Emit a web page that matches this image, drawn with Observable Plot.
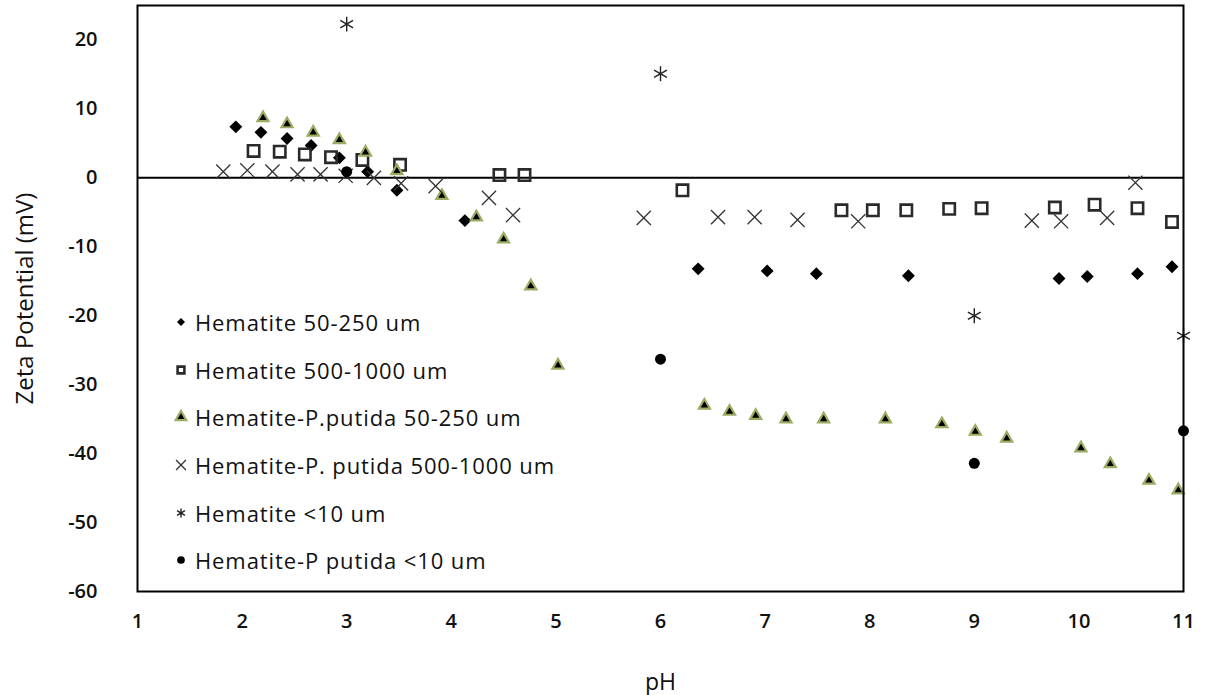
<!DOCTYPE html>
<html>
<head>
<meta charset="utf-8">
<script src="https://cdn.jsdelivr.net/npm/d3@7"></script>
<script src="https://cdn.jsdelivr.net/npm/@observablehq/plot@0.6"></script>
<style>
  html, body { margin: 0; padding: 0; background: #fff; }
  #wrap { position: relative; width: 1206px; height: 695px; }
  #legend { position: absolute; left: 172px; top: 298px; font-family: "Open Sans", sans-serif; font-size: 22px; letter-spacing: 0.9px; color: #111; }
  .row { height: 47.7px; display: flex; align-items: center; white-space: nowrap; }
  .row svg { width: 18px; height: 18px; margin-right: 5px; overflow: visible; }
</style>
</head>
<body>
<div id="wrap"><div id="legend"></div></div>
<script>
// Series names
const seriesNames = [
  "Hematite 50-250 um",
  "Hematite 500-1000 um",
  "Hematite-P.putida 50-250 um",
  "Hematite-P. putida 500-1000 um",
  "Hematite <10 um",
  "Hematite-P putida <10 um"
];

// Hematite 50-250 um
const h50pH = [1.94, 2.18, 2.43, 2.66, 2.93, 3.20, 3.48, 4.13, 6.36, 7.02, 7.49, 8.37, 9.81, 10.08, 10.56, 10.89];
const h50mV = [7.4, 6.6, 5.7, 4.7, 2.9, 0.9, -1.8, -6.2, -13.2, -13.5, -13.9, -14.2, -14.6, -14.3, -13.9, -12.9];

// Hematite 500-1000 um
const h500pH = [2.11, 2.36, 2.60, 2.85, 3.15, 3.51, 4.46, 4.70, 6.21, 7.73, 8.03, 8.35, 8.76, 9.07, 9.77, 10.15, 10.56, 10.89];
const h500mV = [3.9, 3.8, 3.4, 3.0, 2.6, 1.9, 0.4, 0.4, -1.8, -4.7, -4.7, -4.7, -4.5, -4.4, -4.3, -3.9, -4.4, -6.4];

// Hematite-P.putida 50-250 um
const hp50pH = [2.20, 2.43, 2.68, 2.93, 3.18, 3.48, 3.91, 4.24, 4.50, 4.76, 5.02, 6.42, 6.66, 6.91, 7.20, 7.56, 8.15, 8.69, 9.01, 9.31, 10.02, 10.30, 10.67, 10.95];
const hp50mV = [8.7, 7.8, 6.6, 5.5, 3.7, 1.0, -2.6, -5.7, -8.9, -15.7, -27.2, -33.0, -33.9, -34.5, -35.0, -35.0, -35.0, -35.7, -36.8, -37.8, -39.2, -41.5, -43.9, -45.3];

// Hematite-P. putida 500-1000 um
const hp500pH = [1.82, 2.05, 2.29, 2.53, 2.75, 2.99, 3.26, 3.52, 3.85, 4.36, 4.59, 5.84, 6.55, 6.90, 7.31, 7.89, 9.55, 9.83, 10.27, 10.54];
const hp500mV = [0.9, 1.1, 0.9, 0.5, 0.5, 0.3, 0.0, -0.8, -1.2, -2.9, -5.4, -5.8, -5.7, -5.7, -6.1, -6.3, -6.2, -6.3, -5.8, -0.7];

// Hematite <10 um
const h10pH = [3.0, 6.0, 9.0, 11.0];
const h10mV = [22.3, 15.1, -20.0, -22.9];

// Hematite-P putida <10 um
const hp10pH = [3.0, 6.0, 9.0, 11.0];
const hp10mV = [0.9, -26.3, -41.4, -36.7];

// Axis ticks
const xTicks = [1, 2, 3, 4, 5, 6, 7, 8, 9, 10, 11];
const yTicks = [-60, -50, -40, -30, -20, -10, 0, 10, 20];

const zip = (xs, ys) => xs.map((x, i) => ({pH: x, mV: ys[i]}));

const styles = [
  {symbol: "diamond2", fill: "#000", stroke: "none", r: 5.8, strokeWidth: 0},
  {symbol: "square", fill: "none", stroke: "#2a2a2a", r: 6.4, strokeWidth: 2.6},
  {symbol: "triangle", fill: "#000", stroke: "#9aab62", r: 4.1, strokeWidth: 2.2},
  {symbol: "times", fill: "none", stroke: "#333", r: 6.5, strokeWidth: 1.3},
  {symbol: "asterisk", fill: "none", stroke: "#222", r: 7, strokeWidth: 1.4},
  {symbol: "circle", fill: "#000", stroke: "none", r: 5.5, strokeWidth: 0}
];
const datasets = [
  zip(h50pH, h50mV), zip(h500pH, h500mV), zip(hp50pH, hp50mV),
  zip(hp500pH, hp500mV), zip(h10pH, h10mV), zip(hp10pH, hp10mV)
];

const chart = Plot.plot({
  width: 1206,
  height: 695,
  marginLeft: 137,
  marginRight: 23,
  marginTop: 5,
  marginBottom: 104,
  style: {fontFamily: "Open Sans, sans-serif", fontSize: "20px", color: "#111", background: "#fff"},
  x: {domain: [1, 11], ticks: xTicks},
  y: {domain: [-60, 25], ticks: yTicks},
  marks: [
    Plot.axisX({ticks: xTicks, tickSize: 0, tickPadding: 22, fontSize: 20, fontWeight: 600, label: null, tickFormat: d => String(d)}),
    Plot.axisY({ticks: yTicks, tickSize: 0, tickPadding: 40, fontSize: 20, fontWeight: 600, label: null, tickFormat: d => String(d)}),
    Plot.text(["pH"], {frameAnchor: "bottom", dy: 98, fontSize: 23, fill: "#111"}),
    Plot.text(["Zeta Potential (mV)"], {frameAnchor: "left", textAnchor: "middle", rotate: -90, dx: -112, fontSize: 24, fill: "#111"}),
    Plot.ruleY([0], {stroke: "#000", strokeWidth: 2}),
    ...datasets.map((data, i) => Plot.dot(data, {
      x: "pH", y: "mV",
      symbol: () => styles[i].symbol,
      r: styles[i].r,
      fill: styles[i].fill,
      stroke: styles[i].stroke,
      strokeWidth: styles[i].strokeWidth
    })),
    Plot.frame({stroke: "#000", strokeWidth: 2})
  ]
});
document.getElementById("wrap").prepend(chart);

// Legend (HTML, built from the series)
const legend = d3.select("#legend");
const symMap = {
  diamond2: d3.symbolDiamond2, square: d3.symbolSquare, triangle: d3.symbolTriangle,
  times: d3.symbolTimes, asterisk: d3.symbolAsterisk, circle: d3.symbolCircle
};
const legendScale = [0.62, 0.6, 0.95, 0.7, 0.62, 0.7];
seriesNames.forEach((name, i) => {
  const s = styles[i];
  const row = legend.append("div").attr("class", "row");
  const svg = row.append("svg").attr("viewBox", "-9 -9 18 18");
  const rr = s.r * legendScale[i];
  svg.append("path")
    .attr("d", d3.symbol(symMap[s.symbol], Math.PI * rr * rr)())
    .attr("fill", s.fill)
    .attr("stroke", s.stroke)
    .attr("stroke-width", s.strokeWidth);
  row.append("span").text(name);
});
</script>
</body>
</html>
